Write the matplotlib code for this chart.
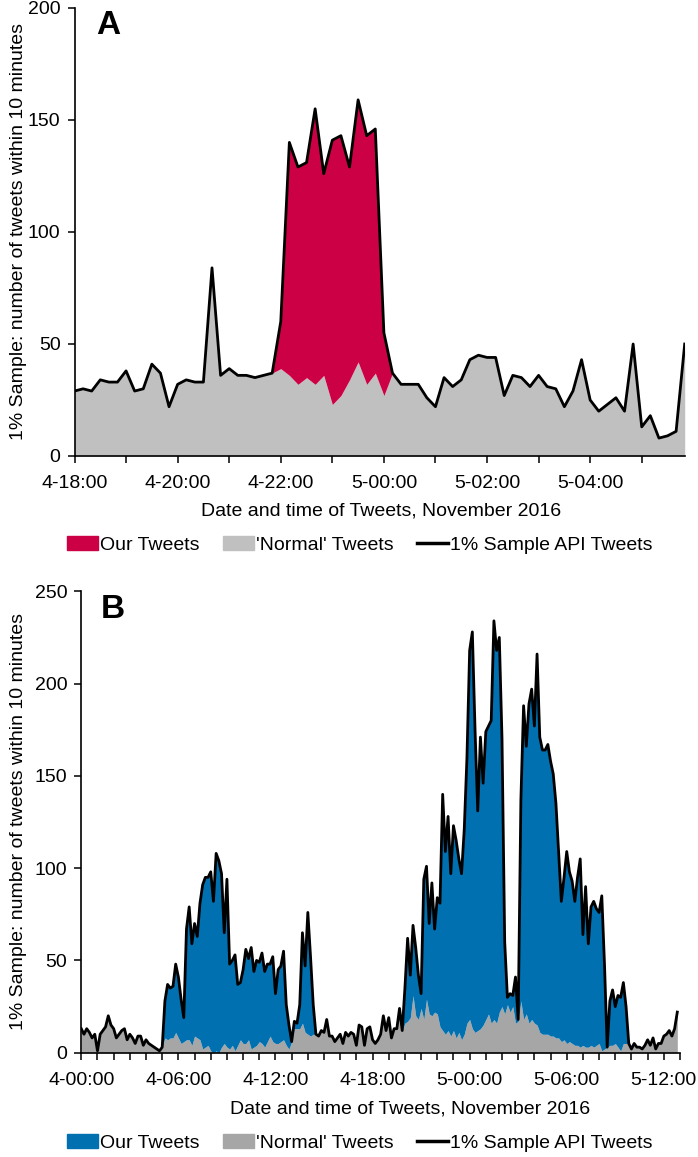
import numpy as np
import matplotlib
matplotlib.use("Agg")
import matplotlib.pyplot as plt
from matplotlib.patches import Patch
from matplotlib.lines import Line2D

plt.rcParams['font.family'] = ['Liberation Sans', 'DejaVu Sans']

# ---------------- Panel A data (10-minute bins from 4-18:00) ----------------
a_total = [29, 30, 29, 34, 33, 33, 38, 29, 30, 41, 37, 22, 32, 34, 33, 33, 84, 36,
           39, 36, 36, 35, 36, 37, 60, 140, 129, 131, 155, 126, 141, 143, 129, 159,
           143, 146, 55, 37, 32, 32, 32, 26, 22, 35, 31, 34, 43, 45, 44, 44, 27, 36,
           35, 31, 36, 31, 30, 22, 29, 43, 25, 20, 23, 26, 20, 50, 13, 18, 8, 9, 11, 50]
a_normal = [29, 30, 29, 34, 33, 33, 38, 29, 30, 41, 37, 22, 32, 34, 33, 33, 84, 36,
            39, 36, 36, 35, 36, 37, 39, 36, 32, 35, 32, 36, 23, 27, 34, 42,
            32, 37, 27, 37, 32, 32, 32, 26, 22, 35, 31, 34, 43, 45, 44, 44, 27, 36,
            35, 31, 36, 31, 30, 22, 29, 43, 25, 20, 23, 26, 20, 50, 13, 18, 8, 9, 11, 50]
a_tick_labels = ["4-18:00", "4-20:00", "4-22:00", "5-00:00", "5-02:00", "5-04:00"]

# ---------------- Panel B data (10-minute bins from 4-00:00) ----------------
b_total = [13, 10, 13, 11, 8, 10, 1, 10, 12, 14, 20, 15, 13, 8, 10, 12, 13, 7, 10, 8,
           5, 9, 9, 4, 7, 5, 4, 3, 2, 1, 3, 28, 37, 35, 36, 48, 41, 29, 19, 67,
           79, 59, 70, 63, 81, 91, 95, 95, 98, 82, 108, 104, 97, 65, 94, 48, 50, 53, 37, 38,
           45, 56, 51, 57, 44, 50, 49, 54, 44, 48, 48, 52, 32, 45, 47, 55, 26, 15, 6, 17,
           16, 26, 65, 47, 76, 52, 26, 10, 9, 12, 11, 18, 9, 9, 6, 8, 10, 5, 11, 9,
           11, 10, 4, 15, 14, 4, 13, 14, 7, 5, 7, 10, 20, 12, 19, 8, 13, 13, 24, 12,
           35, 62, 42, 69, 57, 42, 32, 94, 101, 70, 92, 67, 84, 81, 140, 109, 128, 97, 123, 115,
           105, 97, 121, 160, 218, 228, 175, 131, 171, 146, 174, 177, 180, 234, 218, 225, 170, 60, 30, 32,
           31, 41, 18, 137, 188, 166, 189, 197, 177, 216, 171, 164, 164, 167, 158, 151, 135, 108, 82, 95,
           109, 98, 93, 82, 95, 105, 64, 90, 59, 79, 82, 78, 76, 85, 48, 3, 28, 34, 25, 31,
           30, 38, 25, 5, 2, 5, 3, 3, 2, 4, 7, 4, 8, 2, 5, 5, 9, 10, 12, 9,
           13, 22]
b_normal = [13, 10, 13, 11, 8, 10, 1, 10, 12, 14, 20, 15, 13, 8, 10, 12, 13, 7, 10, 8,
            5, 9, 9, 4, 7, 5, 4, 3, 2, 1, 3, 8, 7, 8, 8, 11, 8, 5, 6, 7,
            7, 4, 9, 8, 7, 2, 3, 4, 1, 0, 1, 0, 3, 5, 3, 2, 4, 1, 4, 7,
            5, 5, 7, 2, 3, 4, 6, 5, 3, 6, 9, 6, 5, 5, 6, 7, 4, 2, 6, 13,
            13, 13, 16, 11, 10, 9, 10, 10, 9, 12, 11, 18, 9, 9, 6, 8, 10, 5, 11, 9,
            11, 10, 4, 15, 14, 4, 13, 14, 7, 5, 7, 10, 20, 12, 19, 8, 13, 13, 24, 12,
            16, 17, 19, 31, 20, 18, 24, 18, 29, 21, 20, 22, 21, 14, 12, 10, 12, 9, 12, 8,
            11, 7, 10, 16, 18, 13, 11, 12, 13, 15, 18, 21, 16, 18, 16, 22, 25, 21, 26, 22,
            25, 16, 17, 28, 18, 21, 16, 18, 16, 15, 11, 10, 10, 10, 9, 9, 8, 8, 6, 7,
            5, 6, 5, 4, 4, 3, 4, 3, 3, 4, 3, 4, 5, 1, 2, 3, 4, 4, 5, 3,
            1, 5, 5, 5, 2, 5, 3, 3, 2, 4, 7, 4, 8, 2, 5, 5, 9, 10, 12, 9,
            13, 22]
b_tick_labels = ["4-00:00", "4-06:00", "4-12:00", "4-18:00", "5-00:00", "5-06:00", "5-12:00"]

legend_labels = ["Our Tweets", "'Normal' Tweets", "1% Sample API Tweets"]
ylabel = "1% Sample: number of tweets within 10 minutes"
xlabel = "Date and time of Tweets, November 2016"

RED = "#CC0044"
GRAY_A = "#C0C0C0"
BLUE = "#0070B0"
GRAY_B = "#A6A6A6"

W, H = 698, 1157
fig = plt.figure(figsize=(W / 100, H / 100), dpi=100)

def ax_rect(l, t, r, b):
    return [l / W, 1 - b / H, (r - l) / W, (b - t) / H]

FS = 14
LW = 2.0

def style(ax):
    for s in ["top", "right"]:
        ax.spines[s].set_visible(False)
    for s in ["left", "bottom"]:
        ax.spines[s].set_linewidth(1.2)
    ax.tick_params(axis="both", direction="out", length=5, width=1.1,
                   labelsize=FS, pad=5)
    ax.tick_params(axis="x", pad=9)

# ---- Panel A ----
axA = fig.add_axes(ax_rect(74.5, 8, 684.7, 456))
xa = np.arange(len(a_total)) / 6.0
axA.fill_between(xa, 0, a_normal, color=GRAY_A, lw=0, zorder=1)
axA.fill_between(xa, a_normal, a_total, color=RED, lw=0, zorder=1)
axA.plot(xa, a_total, color="black", lw=LW, zorder=3)
axA.set_xlim(0, xa[-1])
axA.set_ylim(0, 200)
axA.set_yticks(np.arange(0, 201, 50))
axA.set_xticks(np.arange(0, 12, 1), minor=True)
axA.set_xticks(np.arange(0, 11, 2))
axA.set_xticklabels(a_tick_labels)
style(axA)
axA.tick_params(axis="x", which="minor", length=5, width=1.1)
axA.set_ylabel(ylabel, fontsize=FS)
axA.yaxis.set_label_coords((27 - 74.5) / 610.2, 0.5)
axA.set_xlabel(xlabel, fontsize=FS)
axA.xaxis.set_label_coords(0.503, -(503 - 456) / 448)
axA.text(0.035, 0.995, "A", transform=axA.transAxes, fontsize=24,
         fontweight="bold", ha="left", va="top")

handlesA = [Patch(color=RED), Patch(color=GRAY_A), Line2D([], [], color="black", lw=2.5)]
fig.legend(handlesA, legend_labels, loc="center", ncol=3, frameon=False,
           fontsize=FS, bbox_to_anchor=(360 / W, 1 - 545 / H),
           handlelength=1.6, handletextpad=0.1, columnspacing=1.2)

# ---- Panel B ----
axB = fig.add_axes(ax_rect(81.3, 591.3, 680, 1052.7))
xb = np.arange(len(b_total)) / 6.0
axB.fill_between(xb, 0, b_normal, color=GRAY_B, lw=0, zorder=1)
axB.fill_between(xb, b_normal, b_total, color=BLUE, lw=0, zorder=1)
axB.plot(xb, b_total, color="black", lw=LW, zorder=3)
axB.set_xlim(0, 37)
axB.set_ylim(0, 250)
axB.set_yticks(np.arange(0, 251, 50))
axB.set_xticks(np.arange(0, 38, 1), minor=True)
axB.set_xticks(np.arange(0, 37, 6))
axB.set_xticklabels(b_tick_labels)
style(axB)
axB.tick_params(axis="x", which="minor", length=5, width=1.1)
axB.set_ylabel(ylabel, fontsize=FS)
axB.yaxis.set_label_coords((27 - 81.3) / 598.7, 0.5)
axB.set_xlabel(xlabel, fontsize=FS)
axB.xaxis.set_label_coords(0.549, -(1100 - 1052.7) / 461.4)
axB.text(0.032, 0.995, "B", transform=axB.transAxes, fontsize=24,
         fontweight="bold", ha="left", va="top")

handlesB = [Patch(color=BLUE), Patch(color=GRAY_B), Line2D([], [], color="black", lw=2.5)]
fig.legend(handlesB, legend_labels, loc="center", ncol=3, frameon=False,
           fontsize=FS, bbox_to_anchor=(360 / W, 1 - 1143 / H),
           handlelength=1.6, handletextpad=0.1, columnspacing=1.2)

fig.savefig("out.png", dpi=100)
